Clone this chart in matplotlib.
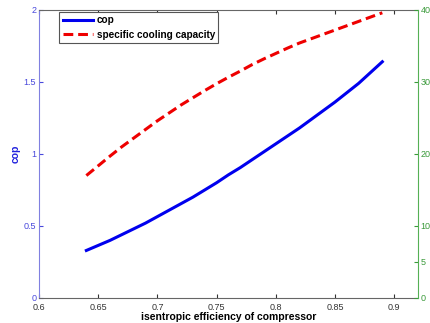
import numpy as np
import matplotlib
matplotlib.use('Agg')
import matplotlib.pyplot as plt

plt.rcParams['font.family'] = ['Liberation Sans', 'DejaVu Sans']

# --- data ---
eff = [0.64, 0.65, 0.66, 0.67, 0.68, 0.69, 0.70, 0.71, 0.72, 0.73, 0.74, 0.75, 0.76,
       0.77, 0.78, 0.79, 0.80, 0.81, 0.82, 0.83, 0.84, 0.85, 0.86, 0.87, 0.88, 0.89]
cop = [0.33, 0.365, 0.40, 0.44, 0.48, 0.52, 0.565, 0.61, 0.655, 0.70, 0.75, 0.80, 0.855,
       0.905, 0.96, 1.015, 1.07, 1.125, 1.18, 1.24, 1.30, 1.36, 1.425, 1.49, 1.565, 1.64]
cooling = [17.0, 18.35, 19.7, 21.0, 22.2, 23.4, 24.6, 25.7, 26.8, 27.8, 28.8, 29.75, 30.65,
           31.5, 32.4, 33.2, 33.95, 34.7, 35.4, 36.0, 36.6, 37.2, 37.8, 38.4, 39.0, 39.6]

x_ticks = [0.6, 0.65, 0.7, 0.75, 0.8, 0.85, 0.9]
left_ticks = [0, 0.5, 1, 1.5, 2]
right_ticks = [0, 5, 10, 20, 30, 40]

BLUE = '#4848dc'
GREEN = '#3a9a3a'

fig = plt.figure(figsize=(4.3, 3.23), dpi=100)
ax = fig.add_axes([0.0907, 0.0774, 0.881, 0.892])
ax2 = ax.twinx()

l1, = ax.plot(eff, cop, color='#0000ee', lw=2.2, label='cop')
l2, = ax2.plot(eff, cooling, color='#ee0000', lw=2.2, ls=(0, (3.2, 1.6)),
               label='specific cooling capacity')

ax.set_xlim(0.6, 0.92)
ax.set_ylim(0, 2)
ax2.set_ylim(0, 40)
ax.set_xticks(x_ticks)
ax.set_xticklabels([f'{v:g}' for v in x_ticks])
ax.set_yticks(left_ticks)
ax.set_yticklabels([f'{v:g}' for v in left_ticks])
ax2.set_yticks(right_ticks)

ax.tick_params(axis='x', direction='in', labelsize=6.5, length=3, colors='#333333', pad=3.5, top=True)
ax.tick_params(axis='y', direction='in', labelsize=6.5, length=3, colors=BLUE, pad=2)
ax2.tick_params(axis='y', direction='in', labelsize=6.5, length=3, colors=GREEN, pad=2)

ax.spines['left'].set_color('#8080e0')
ax.spines['top'].set_color('#666666')
ax.spines['bottom'].set_color('#666666')
ax2.spines['left'].set_visible(False)
ax2.spines['top'].set_visible(False)
ax2.spines['bottom'].set_visible(False)
ax2.spines['right'].set_color('#55b055')
ax.spines['right'].set_visible(False)

ax.set_xlabel('isentropic efficiency of compressor', fontsize=7.5, fontweight='bold', labelpad=0)
ax.set_ylabel('cop', fontsize=7.5, fontweight='bold', color='#2020dd', labelpad=2)

leg = ax.legend(handles=[l1, l2], loc='upper left', bbox_to_anchor=(0.053, 0.993),
                prop={'weight': 'bold', 'size': 7.2}, fancybox=False,
                framealpha=1, edgecolor='#555555', handlelength=3.0,
                borderpad=0.35, labelspacing=0.45, handletextpad=0.4, borderaxespad=0)
leg.get_frame().set_linewidth(0.8)

fig.savefig('out.png', dpi=100)
